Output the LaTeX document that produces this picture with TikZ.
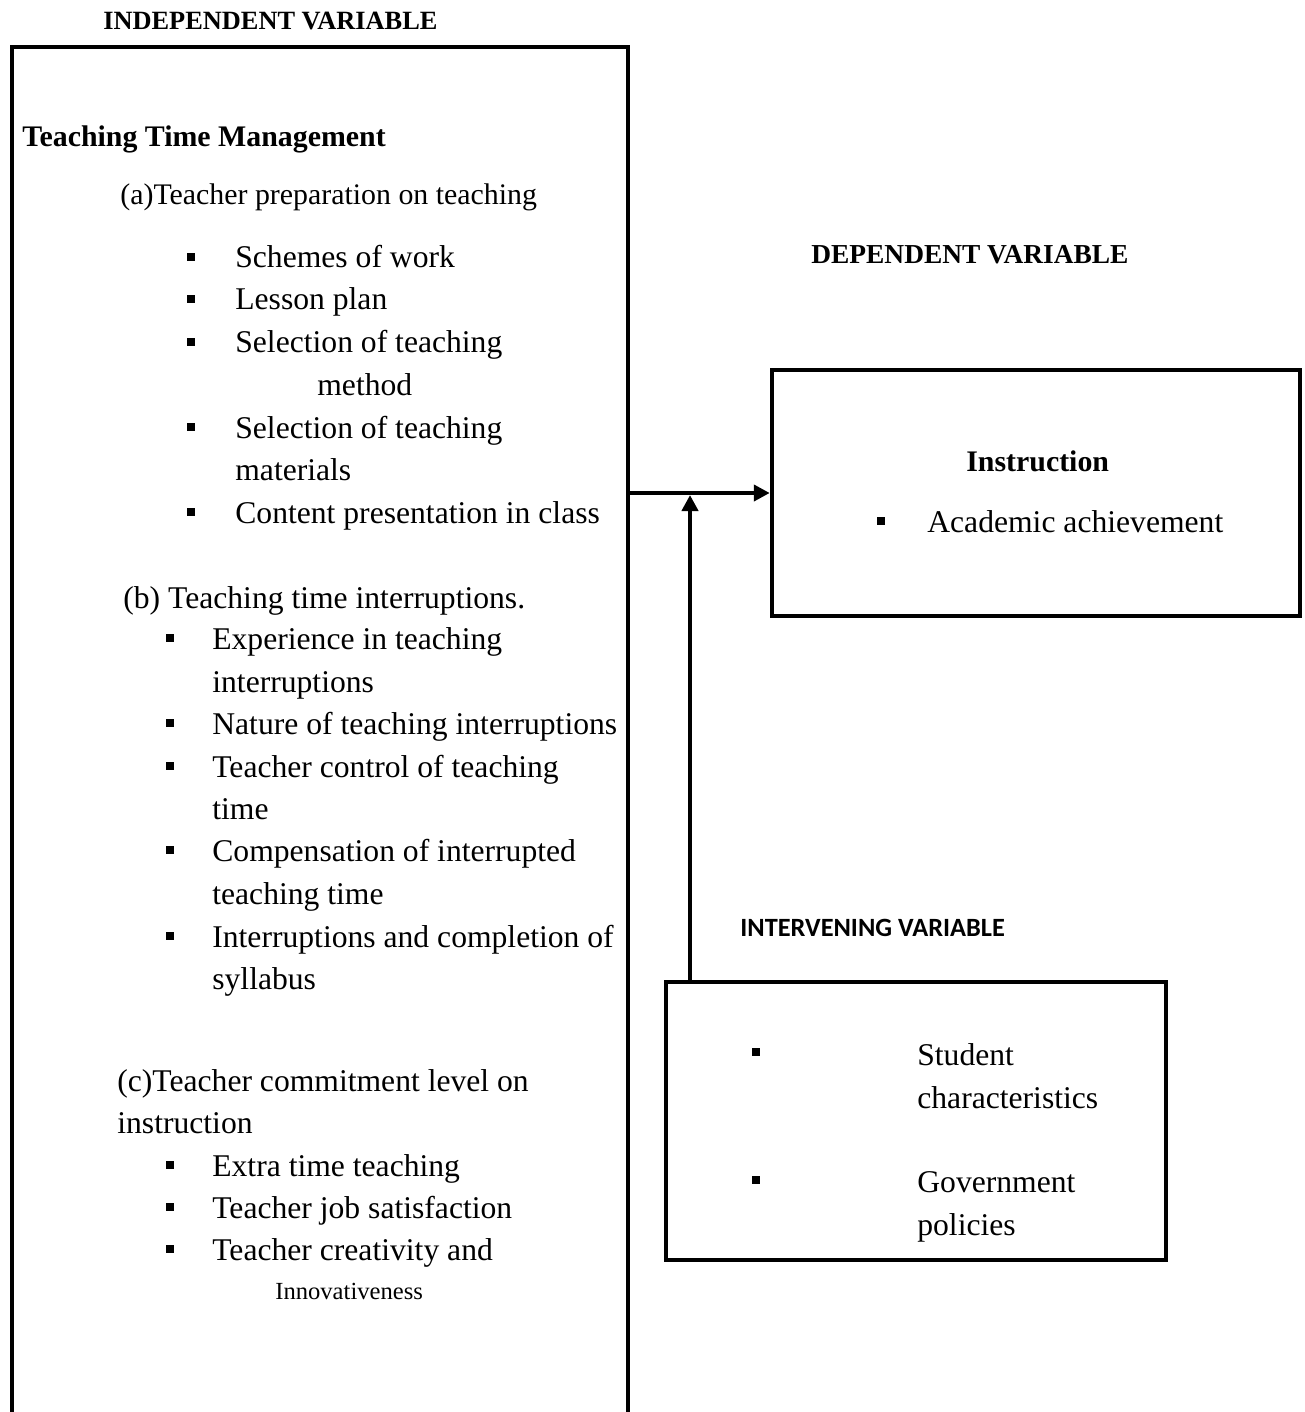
\documentclass[tikz,border=0pt]{standalone}
\usepackage{fontspec}
\setmainfont{Liberation Serif}
\newfontfamily\calibri{Carlito}
\usetikzlibrary{arrows.meta,fit}

\begin{document}
\begin{tikzpicture}[x=0.02cm, y=-0.02cm,
	txt/.style={anchor=base west, inner sep=0, font=\fontsize{18}{22}\selectfont},
	small/.style={txt, font=\fontsize{17}{20}\selectfont},
	head/.style={txt, font=\fontsize{15}{18}\selectfont\bfseries},
	sq/.style={fill=black, minimum size=0.17cm, inner sep=0},
	box/.style={draw=black, line width=0.09cm, inner sep=0, anchor=center},
	arr/.style={draw=black, line width=0.08cm, -{Triangle[length=0.32cm, width=0.32cm]}}]
			\useasboundingbox (0,0) rectangle (1304,1412);
			
			\node[box, fit={(12,47) (628,1440)}] (indep) {};
			\node[box, fit={(772,370) (1300,616)}] (dep) {};
			\node[box, fit={(666,982) (1166,1260)}] (interv) {};
			
			\node[head] (hind) at (103,30){INDEPENDENT VARIABLE};
			\node[head, font=\fontsize{15.6}{18}\selectfont\bfseries] (hdep) at (811,264){DEPENDENT VARIABLE};
			\node[head, font=\fontsize{15}{18}\selectfont\calibri\bfseries] (hint) at (740,936){INTERVENING VARIABLE};
			
			\node[txt, font=\fontsize{17}{20}\selectfont\bfseries] (ttm) at (22,147){Teaching Time Management};
			
			\node[small] (pa) at (120,205){(a)Teacher preparation on teaching};
			\node[txt] (a1) at (235,268){Schemes of work};
			\node[txt] (a2) at (235,310){Lesson plan};
			\node[txt] (a3) at (235,353){Selection of teaching};
			\node[txt] (a3b) at (317,395){method};
			\node[txt] (a4) at (235,438){Selection of teaching};
			\node[txt] (a4b) at (235,480){materials};
			\node[txt] (a5) at (235,523){Content presentation in class};
			\foreach \y/\n in {257/1, 299/2, 342/3, 427/4, 512/5}
				\node[sq] (qa\n) at (191,\y){};
			
			\node[txt] (pb) at (123,608){(b) Teaching time interruptions.};
			\node[txt] (b1) at (212,649){Experience in teaching};
			\node[txt] (b1b) at (212,692){interruptions};
			\node[txt] (b2) at (212,734){Nature of teaching interruptions};
			\node[txt] (b3) at (212,777){Teacher control of teaching};
			\node[txt] (b3b) at (212,819){time};
			\node[txt] (b4) at (212,861){Compensation of interrupted};
			\node[txt] (b4b) at (212,904){teaching time};
			\node[txt] (b5) at (212,947){Interruptions and completion of};
			\node[txt] (b5b) at (212,989){syllabus};
			\foreach \y/\n in {638/1, 723/2, 766/3, 850/4, 936/5}
				\node[sq] (qb\n) at (170,\y){};
			
			\node[txt] (pc) at (117,1091){(c)Teacher commitment level on};
			\node[txt] (pcb) at (117,1133){instruction};
			\node[txt] (c1) at (212,1176){Extra time teaching};
			\node[txt] (c2) at (212,1218){Teacher job satisfaction};
			\node[txt] (c3) at (212,1260){Teacher creativity and};
			\node[txt, font=\fontsize{14}{17}\selectfont] (c3b) at (275,1299){Innovativeness};
			\foreach \y/\n in {1165/1, 1207/2, 1249/3}
				\node[sq] (qc\n) at (170,\y){};
			
			\node[txt, font=\fontsize{17}{20}\selectfont\bfseries] (instr) at (966,471){Instruction};
			\node[sq] (qd) at (881,521){};
			\node[txt] (acad) at (927,532){Academic achievement};
			
			\node[sq] (qi1) at (756,1052){};
			\node[txt] (i1) at (917,1065){Student};
			\node[txt] (i1b) at (917,1108){characteristics};
			\node[sq] (qi2) at (756,1180){};
			\node[txt] (i2) at (917,1192){Government};
			\node[txt] (i2b) at (917,1235){policies};
			
			\coordinate (jn) at (690,495);
			\draw[arr] (indep.east |- dep.west) -- (dep.west);
			\draw[arr] (jn |- interv.north) -- (jn);
\end{tikzpicture}
\end{document}
